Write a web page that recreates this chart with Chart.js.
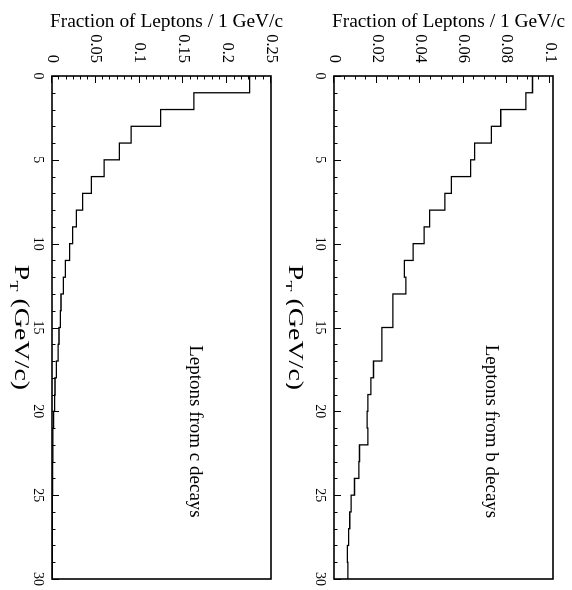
<!DOCTYPE html>
<html>
<head>
<meta charset="utf-8">
<script src="https://cdn.jsdelivr.net/npm/chart.js@4.4.0/dist/chart.umd.min.js"></script>
<style>
  html, body { margin: 0; padding: 0; background: #fff; width: 572px; height: 590px; overflow: hidden; }
  /* the figure is laid out upright (P_T across) and turned a quarter clockwise */
  #sheet { position: absolute; left: 0; top: 0; width: 590px; height: 572px;
           transform-origin: 0 0; transform: translate(572px, 0) rotate(90deg); }
  .panel { position: absolute; left: 0; width: 590px; height: 286px; }
  #panel-b { top: 0; }
  #panel-c { top: 286px; }
</style>
</head>
<body>
<div id="sheet">
  <div class="panel" id="panel-b"><canvas id="chart-b" width="590" height="286"></canvas></div>
  <div class="panel" id="panel-c"><canvas id="chart-c" width="590" height="286"></canvas></div>
</div>
<script>
// P_T bin edges, 1 GeV/c bins
const ptEdges = [0,1,2,3,4,5,6,7,8,9,10,11,12,13,14,15,16,17,18,19,20,21,22,23,24,25,26,27,28,29,30];

// fraction of leptons per bin, b decays
const bFraction = [0.0919,0.0888,0.0772,0.0729,0.0651,0.0633,0.0543,0.0513,0.0443,0.0417,
                   0.0366,0.0326,0.0333,0.0273,0.0273,0.0222,0.0222,0.0183,0.0171,0.0157,
                   0.0153,0.0157,0.0118,0.0115,0.0095,0.0079,0.0073,0.0068,0.0062,0.0064];

// fraction of leptons per bin, c decays
const cFraction = [0.2257,0.1620,0.1239,0.0904,0.0770,0.0595,0.0450,0.0350,0.0278,0.0236,
                   0.0201,0.0152,0.0129,0.0103,0.0095,0.0080,0.0069,0.0049,0.0034,0.0030,
                   0.0018,0.0011,0.0011,0.0008,0.0008,0.0004,0.0004,0.0003,0.0003,0.0003];

const ptTicks = [0,5,10,15,20,25,30];
const bTicks = [0,0.02,0.04,0.06,0.08,0.1];
const cTicks = [0,0.05,0.1,0.15,0.2,0.25];
const bTickLabels = ['0','0.02','0.04','0.06','0.08','0.1'];
const cTickLabels = ['0','0.05','0.1','0.15','0.2','0.25'];

const SERIF = '"Liberation Serif", "DejaVu Serif", serif';

function histPoints(values){
  const pts = values.map((v, i) => ({ x: ptEdges[i], y: v }));
  pts.push({ x: ptEdges[ptEdges.length - 1], y: values[values.length - 1] });
  return pts;
}

// frame, inward ticks and all the text
const pawFrame = {
  id: 'pawFrame',
  afterDatasetsDraw(chart, args, o){
    const { ctx, chartArea: a, scales: { x, y } } = chart;
    ctx.save();
    ctx.strokeStyle = '#000';
    ctx.fillStyle = '#000';

    // ticks on the fraction axis
    ctx.lineWidth = 1;
    ctx.beginPath();
    const nMinor = Math.round(o.yMax / o.yMinor);
    for (let k = 0; k <= nMinor; k++){
      const v = k * o.yMinor;
      const py = Math.round(y.getPixelForValue(v)) + 0.5;
      const major = o.yTicks.some(t => Math.abs(t - v) < 1e-9);
      ctx.moveTo(a.left, py);
      ctx.lineTo(a.left + (major ? 7 : 3.5), py);
    }
    // ticks on the P_T axis
    for (let k = 0; k <= 30; k++){
      const px = Math.round(x.getPixelForValue(k)) + 0.5;
      const major = ptTicks.includes(k);
      ctx.moveTo(px, a.bottom);
      ctx.lineTo(px, a.bottom - (major ? 7 : 3.5));
    }
    ctx.stroke();

    ctx.lineWidth = 1.6;
    ctx.strokeRect(a.left, a.top, a.right - a.left, a.bottom - a.top);

    // tick labels
    ctx.font = `16.5px ${SERIF}`;
    ctx.textAlign = 'right';
    ctx.textBaseline = 'middle';
    o.yTicks.forEach((t, i) => ctx.fillText(o.yLabels[i], a.left - 13, y.getPixelForValue(t)));
    ctx.font = `14px ${SERIF}`;
    ctx.textAlign = 'center';
    ptTicks.forEach(t => ctx.fillText(String(t), x.getPixelForValue(t), a.bottom + 14.5));

    // fraction axis title
    ctx.save();
    ctx.translate(22, (a.top + a.bottom) / 2 - 5);
    ctx.rotate(-Math.PI / 2);
    ctx.font = `19.4px ${SERIF}`;
    ctx.textAlign = 'center';
    ctx.textBaseline = 'middle';
    ctx.fillText('Fraction of Leptons / 1 GeV/c', 0, 0);
    ctx.restore();

    // P_T (GeV/c) with subscript, a wide lettering
    const big = `28px ${SERIF}`, small = `18px ${SERIF}`;
    ctx.save();
    ctx.translate(0, a.bottom + o.ptTitleOffset);
    ctx.scale(1, 0.72);
    ctx.textAlign = 'left';
    ctx.textBaseline = 'alphabetic';
    ctx.font = big; const wP = ctx.measureText('P').width; const wR = ctx.measureText(' (GeV/c)').width;
    ctx.font = small; const wT = ctx.measureText('T').width;
    let px = (a.left + a.right) / 2 - (wP + wT + wR) / 2;
    ctx.font = big; ctx.fillText('P', px, 0); px += wP;
    ctx.font = small; ctx.fillText('T', px, 7); px += wT;
    ctx.font = big; ctx.fillText(' (GeV/c)', px, 0);
    ctx.restore();

    // sample label inside the frame
    ctx.font = `19px ${SERIF}`;
    ctx.textAlign = 'center';
    ctx.textBaseline = 'middle';
    ctx.fillText(o.label, x.getPixelForValue(o.labelAt[0]), y.getPixelForValue(o.labelAt[1]));
    ctx.restore();
  }
};

function makeChart(id, values, cfg){
  // eslint-disable-next-line no-undef
  return new Chart(document.getElementById(id), {
    type: 'line',
    data: { datasets: [{ data: histPoints(values), stepped: true, borderColor: '#000', borderWidth: 1.3,
                         pointRadius: 0, fill: false, tension: 0 }] },
    options: {
      responsive: false, animation: false, events: [],
      layout: { padding: cfg.padding },
      scales: {
        x: { type: 'linear', min: 0, max: 30, display: false },
        y: { type: 'linear', min: 0, max: cfg.yMax, display: false }
      },
      plugins: { legend: { display: false }, tooltip: { enabled: false }, pawFrame: cfg }
    },
    plugins: [pawFrame]
  });
}

makeChart('chart-b', bFraction, {
  padding: { left: 76, right: 11, top: 19, bottom: 48 },
  yMax: 0.1014, yMinor: 0.005, yTicks: bTicks, yLabels: bTickLabels,
  label: 'Leptons from b decays', labelAt: [21.2, 0.0727], ptTitleOffset: 45
});
makeChart('chart-c', cFraction, {
  padding: { left: 76, right: 11, top: 15, bottom: 52 },
  yMax: 0.25, yMinor: 0.05 / 6, yTicks: cTicks, yLabels: cTickLabels,
  label: 'Leptons from c decays', labelAt: [21.2, 0.1632], ptTitleOffset: 37
});
</script>
</body>
</html>
